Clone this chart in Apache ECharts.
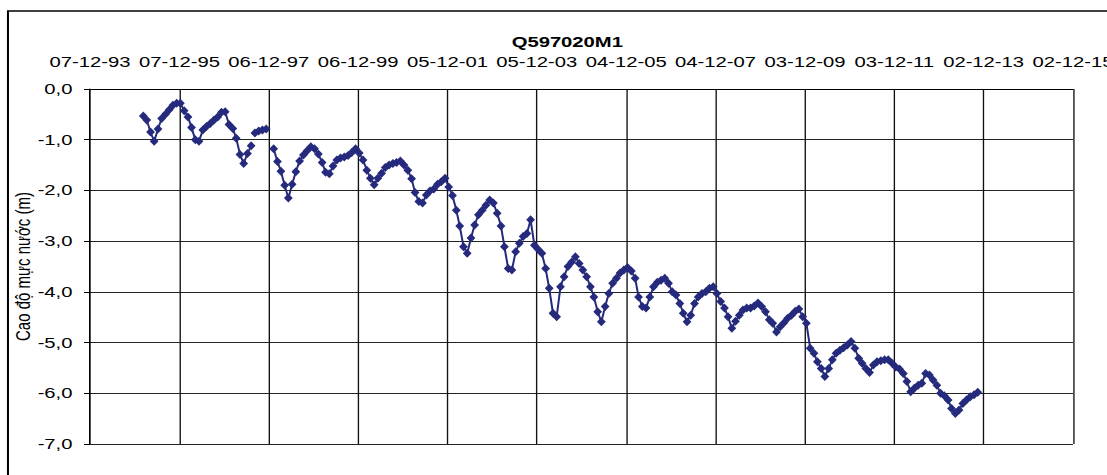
<!DOCTYPE html>
<html><head><meta charset="utf-8">
<script src="https://cdn.jsdelivr.net/npm/echarts@6/dist/echarts.min.js"></script>
<style>
html,body{margin:0;padding:0;background:#fff;overflow:hidden;width:1107px;height:475px;}
#chart{width:820px;height:475px;transform:scaleX(1.35);transform-origin:0 0;}
</style></head><body><div id="chart"></div>
<script>
const chartTitle = 'Q597020M1';
const yAxisTitle = 'Cao độ mực nước (m)';
const xTickLabels = ['07-12-93','07-12-95','06-12-97','06-12-99','05-12-01','05-12-03','04-12-05','04-12-07','03-12-09','03-12-11','02-12-13','02-12-15'];
const yTickLabels = ['-7,0','-6,0','-5,0','-4,0','-3,0','-2,0','-1,0','0,0'];

const months = [
'1995-02','1995-03','1995-04','1995-05','1995-06','1995-07','1995-08','1995-09','1995-10','1995-11','1995-12',
'1996-01','1996-02','1996-03','1996-04','1996-05','1996-06','1996-07','1996-08','1996-09','1996-10','1996-11','1996-12',
'1997-01','1997-02','1997-03','1997-04','1997-05','1997-06','1997-07','1997-07','1997-08','1997-09','1997-10','1997-11','1997-12',
'1998-01','1998-02','1998-03','1998-04','1998-05','1998-06','1998-07','1998-08','1998-09','1998-10','1998-11','1998-12',
'1999-01','1999-02','1999-03','1999-04','1999-05','1999-06','1999-07','1999-08','1999-09','1999-10','1999-11','1999-12',
'2000-01','2000-02','2000-03','2000-04','2000-05','2000-06','2000-07','2000-08','2000-09','2000-10','2000-11','2000-12',
'2001-01','2001-02','2001-03','2001-04','2001-05','2001-06','2001-07','2001-08','2001-09','2001-10','2001-11','2001-12',
'2002-01','2002-02','2002-03','2002-04','2002-05','2002-06','2002-07','2002-08','2002-09','2002-10','2002-11','2002-12',
'2003-01','2003-02','2003-03','2003-04','2003-05','2003-06','2003-07','2003-08','2003-09','2003-10','2003-11','2003-12',
'2004-01','2004-02','2004-03','2004-04','2004-05','2004-06','2004-07','2004-08','2004-09','2004-10','2004-11','2004-12',
'2005-01','2005-02','2005-03','2005-04','2005-05','2005-06','2005-07','2005-08','2005-09','2005-10','2005-11','2005-12',
'2006-01','2006-02','2006-03','2006-04','2006-05','2006-06','2006-07','2006-08','2006-09','2006-10','2006-11','2006-12',
'2007-01','2007-02','2007-03','2007-04','2007-05','2007-06','2007-07','2007-08','2007-09','2007-10','2007-11','2007-12',
'2008-01','2008-02','2008-03','2008-04','2008-05','2008-06','2008-07','2008-08','2008-09','2008-10','2008-11','2008-12',
'2009-01','2009-02','2009-03','2009-04','2009-05','2009-06','2009-07','2009-08','2009-09','2009-10','2009-11','2009-12',
'2010-01','2010-02','2010-03','2010-04','2010-05','2010-06','2010-07','2010-08','2010-09','2010-10','2010-11','2010-12',
'2011-01','2011-02','2011-03','2011-04','2011-05','2011-06','2011-07','2011-08','2011-09','2011-10','2011-11','2011-12',
'2012-01','2012-02','2012-03','2012-04','2012-05','2012-06','2012-07','2012-08','2012-09','2012-10','2012-11','2012-12',
'2013-01','2013-02','2013-03','2013-04','2013-05','2013-06','2013-07','2013-08','2013-09','2013-10'
];

const levels = [
-0.53,-0.61,-0.85,-1.03,-0.79,-0.58,-0.50,-0.41,-0.32,-0.28,-0.28,
-0.43,-0.55,-0.76,-1.00,-1.03,-0.81,-0.74,-0.68,-0.61,-0.55,-0.46,-0.45,
-0.70,-0.78,-0.97,-1.29,-1.47,-1.27,-1.12,null,-0.87,-0.83,-0.81,-0.79,null,
-1.18,-1.43,-1.62,-1.90,-2.15,-1.88,-1.63,-1.42,-1.30,-1.22,-1.14,-1.18,
-1.28,-1.45,-1.64,-1.67,-1.52,-1.40,-1.36,-1.34,-1.31,-1.25,-1.18,-1.26,
-1.40,-1.60,-1.76,-1.89,-1.76,-1.66,-1.55,-1.50,-1.47,-1.45,-1.42,-1.50,
-1.60,-1.77,-2.04,-2.22,-2.25,-2.09,-2.01,-1.97,-1.88,-1.83,-1.76,-1.93,
-2.10,-2.39,-2.70,-3.11,-3.24,-2.94,-2.68,-2.48,-2.39,-2.29,-2.19,-2.25,
-2.45,-2.70,-3.11,-3.54,-3.57,-3.21,-3.04,-2.91,-2.85,-2.58,-3.08,-3.16,
-3.24,-3.54,-3.93,-4.42,-4.49,-3.90,-3.70,-3.50,-3.41,-3.31,-3.44,-3.57,
-3.70,-3.90,-4.10,-4.39,-4.59,-4.29,-4.03,-3.83,-3.73,-3.63,-3.57,-3.52,
-3.59,-3.73,-4.10,-4.29,-4.32,-4.10,-3.90,-3.81,-3.77,-3.73,-3.83,-4.00,
-4.06,-4.23,-4.42,-4.59,-4.46,-4.23,-4.10,-4.03,-4.00,-3.93,-3.90,-4.03,
-4.19,-4.32,-4.49,-4.72,-4.58,-4.46,-4.36,-4.32,-4.32,-4.28,-4.22,-4.29,
-4.39,-4.55,-4.62,-4.79,-4.69,-4.61,-4.52,-4.46,-4.38,-4.34,-4.49,-4.62,
-5.11,-5.21,-5.38,-5.51,-5.67,-5.51,-5.34,-5.21,-5.15,-5.10,-5.05,-4.98,
-5.11,-5.31,-5.41,-5.51,-5.59,-5.44,-5.38,-5.36,-5.34,-5.34,-5.41,-5.48,
-5.52,-5.61,-5.77,-5.97,-5.90,-5.84,-5.80,-5.61,-5.64,-5.74,-5.84,-6.00,
-6.05,-6.13,-6.30,-6.40,-6.33,-6.20,-6.13,-6.07,-6.03,-5.98
];

const origin = Date.UTC(1993, 11, 7);
function dayOf(m) {
  const p = m.split('-');
  return (Date.UTC(+p[0], +p[1] - 1, 15) - origin) / 86400000;
}
const seriesData = months.map((m, i) => [dayOf(m), levels[i] === null ? '-' : levels[i]]);

const FONT = 'Liberation Sans, Arial, sans-serif';
const chart = echarts.init(document.getElementById('chart'), null, {renderer: 'svg'});
chart.setOption({
  animation: false,
  backgroundColor: '#fff',
  graphic: [{
    type: 'rect', silent: true, z: -1,
    shape: {x: 5.9, y: 11, width: 2000, height: 1000},
    style: {fill: 'none', stroke: '#000', lineWidth: 1.5}
  }],
  title: {
    text: chartTitle, left: 374, top: 29,
    textStyle: {fontFamily: FONT, fontSize: 15, fontWeight: 'bold', color: '#000'}
  },
  grid: {left: 66.7, right: 25.2, top: 89, bottom: 31, containLabel: false, outerBoundsMode: 'none'},
  xAxis: {
    type: 'value', position: 'top', min: 0, max: 8030, interval: 730,
    axisLine: {show: true, lineStyle: {color: '#000', width: 1}},
    axisTick: {show: false},
    axisLabel: {
      show: true, margin: 20, color: '#000', fontFamily: FONT, fontSize: 15,
      showMinLabel: true, showMaxLabel: true,
      formatter: v => xTickLabels[Math.round(v / 730)]
    },
    splitLine: {show: true, lineStyle: {color: '#111', width: 1}}
  },
  yAxis: {
    type: 'value', min: -7, max: 0, interval: 1,
    name: yAxisTitle, nameLocation: 'middle', nameGap: 42, nameRotate: 90,
    nameMoveOverlap: false,
    nameTextStyle: {fontFamily: FONT, fontSize: 15, color: '#000'},
    axisLine: {show: true, lineStyle: {color: '#000', width: 1}},
    axisTick: {show: true, length: 4.5, lineStyle: {color: '#000'}},
    axisLabel: {
      margin: 13, color: '#000', fontFamily: FONT, fontSize: 15,
      formatter: v => yTickLabels[Math.round(v + 7)]
    },
    splitLine: {show: true, lineStyle: {color: '#222', width: 1}}
  },
  series: [{
    type: 'line', data: seriesData, connectNulls: false,
    symbol: 'diamond', symbolSize: [6.5, 9],
    lineStyle: {color: '#252a7c', width: 1.5},
    itemStyle: {color: '#252a7c', borderWidth: 0}
  }]
});
</script></body></html>
